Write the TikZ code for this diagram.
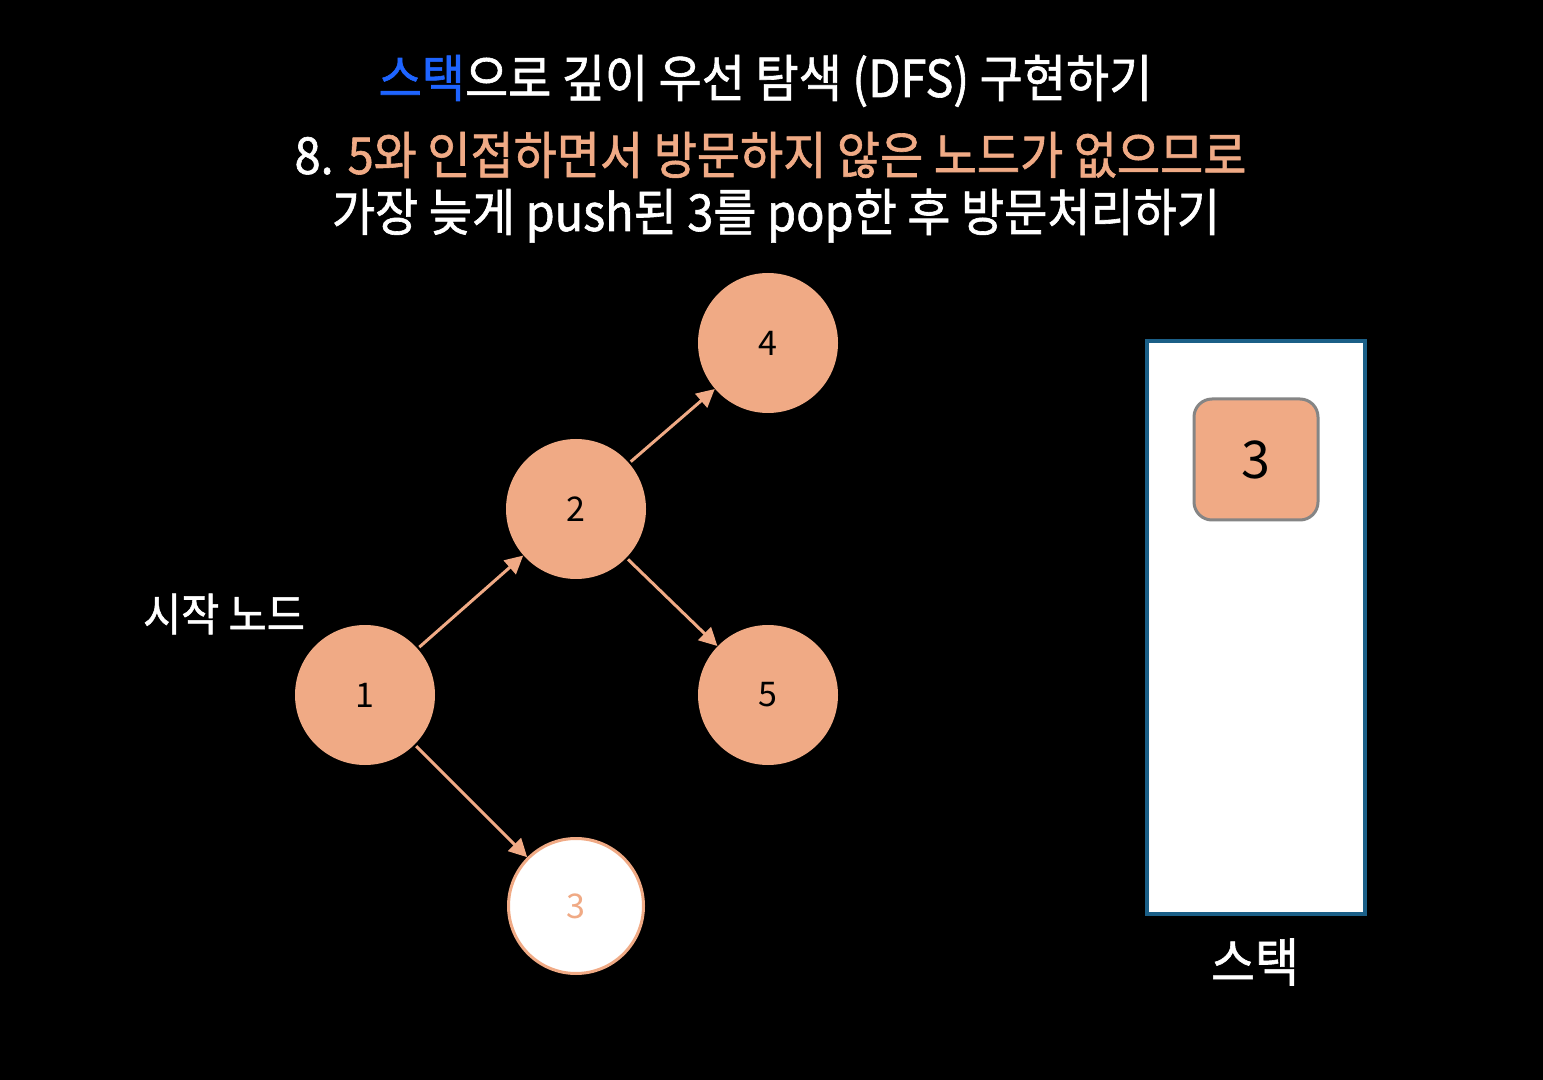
\documentclass[tikz,border=0pt]{standalone}
\usepackage{fontspec}
\setmainfont{Noto Sans CJK KR}[FakeStretch=0.92, FakeBold=1.2]
\newfontfamily\digitfont{Noto Sans CJK KR}
\usetikzlibrary{arrows.meta}
\definecolor{peach}{HTML}{F0AA85}
\definecolor{bluet}{HTML}{1E64FF}
\definecolor{stackb}{HTML}{1B5F87}
\definecolor{itemgray}{HTML}{858585}
\begin{document}
\begin{tikzpicture}[x=0.5pt,y=-0.5pt,
  vert/.style={circle, fill=peach, minimum size=70pt, inner sep=0pt, text=black, font=\digitfont\fontsize{17}{17}\selectfont},
  visited/.style={circle, draw=peach, line width=1.5pt, fill=white, minimum size=67.5pt, inner sep=0pt, text=peach, font=\digitfont\fontsize{17}{17}\selectfont},
  edge/.style={draw=peach, line width=1.5pt, -{Triangle[length=9pt,width=9pt]}, shorten <=1pt},
  title/.style={text=white, anchor=base, inner sep=0pt, font=\fontsize{25.5}{25.5}\selectfont},
  label/.style={text=white, inner sep=0pt},
]
\fill[black] (0,0) rectangle (1543,1080);
\useasboundingbox (0,0) rectangle (1543,1080);

\node[title] (t1) at (765.5,97) {\textcolor{bluet}{스택}으로 깊이 우선 탐색 (DFS) 구현하기};
\node[title] (t2) at (770.5,174) {8. \textcolor{peach}{5와 인접하면서 방문하지 않은 노드가 없으므로}};
\node[title] (t3) at (776,231) {가장 늦게 push된 3를 pop한 후 방문처리하기};

\node[vert] (n1) at (365,695) {1};
\node[vert] (n2) at (576,509) {2};
\node[vert] (n4) at (768,343) {4};
\node[vert] (n5) at (768,695) {5};
\node[visited] (n3) at (576,906) {3};

\draw[edge] (n1) -- (n2);
\draw[edge] (n2) -- (n4);
\draw[edge] (n2) -- (n5);
\draw[edge] (n1) -- (n3);

\node[label, font=\fontsize{22.5}{22.5}\selectfont] (start) at (224,614) {시작 노드};

\node[draw=stackb, line width=2pt, fill=white, minimum width=109pt, minimum height=286.5pt, inner sep=0pt] (stack) at (1256,627.5) {};
\node[draw=itemgray, line width=1.5pt, fill=peach, rounded corners=9pt, minimum width=62pt, minimum height=60.5pt, inner sep=0pt, font=\digitfont\fontsize{26}{26}\selectfont] (item) at (1256,459.5) {3};
\node[label, font=\fontsize{26}{26}\selectfont] (stacklabel) at (1255,962) {스택};
\end{tikzpicture}
\end{document}
